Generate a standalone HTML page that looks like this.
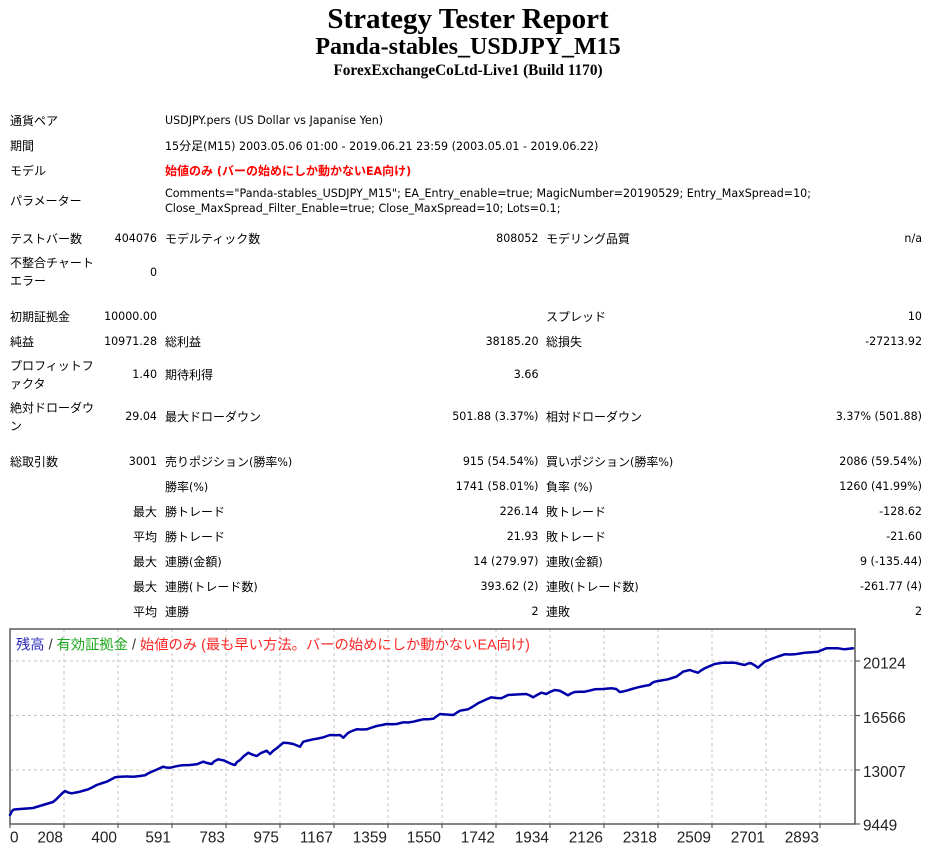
<!DOCTYPE html>
<html>
<head>
<meta charset="utf-8">
<style>
html,body{margin:0;padding:0;background:#fff;}
body{width:936px;height:858px;position:relative;overflow:hidden;}
.h{position:absolute;left:0;width:936px;text-align:center;font-family:"Liberation Serif","Noto Serif CJK SC",serif;font-weight:bold;color:#000;white-space:nowrap;}
.t{position:absolute;height:14px;line-height:14px;white-space:nowrap;font-family:"DejaVu Sans","Noto Sans CJK JP",sans-serif;font-size:12px;color:#000;}
.n{font-size:11.1px;}
.c{font-size:12px;}
.r{text-align:right;}
.red{color:#ff0000;font-weight:bold;}
svg{position:absolute;left:0;top:0;}
</style>
</head>
<body>
<div class="h" style="top:3px;font-size:29px;line-height:32px;">Strategy Tester Report</div>
<div class="h" style="top:33px;font-size:24px;line-height:28px;">Panda-stables_USDJPY_M15</div>
<div class="h" style="top:62px;font-size:15.3px;line-height:18px;">ForexExchangeCoLtd-Live1 (Build 1170)</div>

<!-- top info rows -->
<div class="t" style="left:10px;top:114px;">通貨ペア</div>
<div class="t n" style="left:165px;top:114px;">USDJPY.pers (US Dollar vs Japanise Yen)</div>

<div class="t" style="left:10px;top:138.5px;">期間</div>
<div class="t n" style="left:165px;top:138.5px;">15<span class="c">分足</span>(M15) 2003.05.06 01:00 - 2019.06.21 23:59 (2003.05.01 - 2019.06.22)</div>

<div class="t" style="left:10px;top:164px;">モデル</div>
<div class="t red" style="left:165px;top:164px;">始値のみ<span class="n"> (</span>バーの始めにしか動かない<span class="n">EA</span>向け<span class="n">)</span></div>

<div class="t" style="left:10px;top:194px;">パラメーター</div>
<div class="t n" style="left:165px;top:187px;">Comments="Panda-stables_USDJPY_M15"; EA_Entry_enable=true; MagicNumber=20190529; Entry_MaxSpread=10;</div>
<div class="t n" style="left:165px;top:201.5px;">Close_MaxSpread_Filter_Enable=true; Close_MaxSpread=10; Lots=0.1;</div>

<!-- row E -->
<div class="t" style="left:10px;top:232px;">テストバー数</div>
<div class="t r n" style="right:779px;top:232px;">404076</div>
<div class="t" style="left:165px;top:232px;">モデルティック数</div>
<div class="t r n" style="right:397.5px;top:232px;">808052</div>
<div class="t" style="left:546px;top:232px;">モデリング品質</div>
<div class="t r n" style="right:14px;top:232px;">n/a</div>

<!-- row F -->
<div class="t" style="left:10px;top:255.5px;">不整合チャート</div>
<div class="t" style="left:10px;top:273.5px;">エラー</div>
<div class="t r n" style="right:779px;top:265.5px;">0</div>

<!-- row G -->
<div class="t" style="left:10px;top:309.5px;">初期証拠金</div>
<div class="t r n" style="right:779px;top:309.5px;">10000.00</div>
<div class="t" style="left:546px;top:309.5px;">スプレッド</div>
<div class="t r n" style="right:14px;top:309.5px;">10</div>

<!-- row H -->
<div class="t" style="left:10px;top:334.5px;">純益</div>
<div class="t r n" style="right:779px;top:334.5px;">10971.28</div>
<div class="t" style="left:165px;top:334.5px;">総利益</div>
<div class="t r n" style="right:397.5px;top:334.5px;">38185.20</div>
<div class="t" style="left:546px;top:334.5px;">総損失</div>
<div class="t r n" style="right:14px;top:334.5px;">-27213.92</div>

<!-- row I -->
<div class="t" style="left:10px;top:359px;">プロフィットフ</div>
<div class="t" style="left:10px;top:377px;">ァクタ</div>
<div class="t r n" style="right:779px;top:368px;">1.40</div>
<div class="t" style="left:165px;top:368px;">期待利得</div>
<div class="t r n" style="right:397.5px;top:368px;">3.66</div>

<!-- row J -->
<div class="t" style="left:10px;top:401px;">絶対ドローダウ</div>
<div class="t" style="left:10px;top:419px;">ン</div>
<div class="t r n" style="right:779px;top:410px;">29.04</div>
<div class="t" style="left:165px;top:410px;">最大ドローダウン</div>
<div class="t r n" style="right:397.5px;top:410px;">501.88 (3.37%)</div>
<div class="t" style="left:546px;top:410px;">相対ドローダウン</div>
<div class="t r n" style="right:14px;top:410px;">3.37% (501.88)</div>

<!-- row K -->
<div class="t" style="left:10px;top:455px;">総取引数</div>
<div class="t r n" style="right:779px;top:455px;">3001</div>
<div class="t" style="left:165px;top:455px;">売りポジション<span class="n">(</span>勝率<span class="n">%)</span></div>
<div class="t r n" style="right:397.5px;top:455px;">915 (54.54%)</div>
<div class="t" style="left:546px;top:455px;">買いポジション<span class="n">(</span>勝率<span class="n">%)</span></div>
<div class="t r n" style="right:14px;top:455px;">2086 (59.54%)</div>

<!-- row L -->
<div class="t" style="left:165px;top:480px;">勝率<span class="n">(%)</span></div>
<div class="t r n" style="right:397.5px;top:480px;">1741 (58.01%)</div>
<div class="t" style="left:546px;top:480px;">負率<span class="n"> (%)</span></div>
<div class="t r n" style="right:14px;top:480px;">1260 (41.99%)</div>

<!-- row M -->
<div class="t r" style="right:779px;top:505px;">最大</div>
<div class="t" style="left:165px;top:505px;">勝トレード</div>
<div class="t r n" style="right:397.5px;top:505px;">226.14</div>
<div class="t" style="left:546px;top:505px;">敗トレード</div>
<div class="t r n" style="right:14px;top:505px;">-128.62</div>

<!-- row N -->
<div class="t r" style="right:779px;top:530px;">平均</div>
<div class="t" style="left:165px;top:530px;">勝トレード</div>
<div class="t r n" style="right:397.5px;top:530px;">21.93</div>
<div class="t" style="left:546px;top:530px;">敗トレード</div>
<div class="t r n" style="right:14px;top:530px;">-21.60</div>

<!-- row O -->
<div class="t r" style="right:779px;top:555px;">最大</div>
<div class="t" style="left:165px;top:555px;">連勝<span class="n">(</span>金額<span class="n">)</span></div>
<div class="t r n" style="right:397.5px;top:555px;">14 (279.97)</div>
<div class="t" style="left:546px;top:555px;">連敗<span class="n">(</span>金額<span class="n">)</span></div>
<div class="t r n" style="right:14px;top:555px;">9 (-135.44)</div>

<!-- row P -->
<div class="t r" style="right:779px;top:580px;">最大</div>
<div class="t" style="left:165px;top:580px;">連勝<span class="n">(</span>トレード数<span class="n">)</span></div>
<div class="t r n" style="right:397.5px;top:580px;">393.62 (2)</div>
<div class="t" style="left:546px;top:580px;">連敗<span class="n">(</span>トレード数<span class="n">)</span></div>
<div class="t r n" style="right:14px;top:580px;">-261.77 (4)</div>

<!-- row Q -->
<div class="t r" style="right:779px;top:605px;">平均</div>
<div class="t" style="left:165px;top:605px;">連勝</div>
<div class="t r n" style="right:397.5px;top:605px;">2</div>
<div class="t" style="left:546px;top:605px;">連敗</div>
<div class="t r n" style="right:14px;top:605px;">2</div>

<svg width="936" height="858" viewBox="0 0 936 858" xmlns="http://www.w3.org/2000/svg">
  <!-- grid -->
  <g stroke="#c4c4c4" stroke-width="1" stroke-dasharray="3 3" fill="none">
    <line x1="10" y1="661" x2="855" y2="661"/>
    <line x1="10" y1="715.5" x2="855" y2="715.5"/>
    <line x1="10" y1="770" x2="855" y2="770"/>
    <line x1="64" y1="629" x2="64" y2="824"/>
    <line x1="118" y1="629" x2="118" y2="824"/>
    <line x1="172" y1="629" x2="172" y2="824"/>
    <line x1="226" y1="629" x2="226" y2="824"/>
    <line x1="280" y1="629" x2="280" y2="824"/>
    <line x1="334" y1="629" x2="334" y2="824"/>
    <line x1="388" y1="629" x2="388" y2="824"/>
    <line x1="442" y1="629" x2="442" y2="824"/>
    <line x1="496" y1="629" x2="496" y2="824"/>
    <line x1="550" y1="629" x2="550" y2="824"/>
    <line x1="604" y1="629" x2="604" y2="824"/>
    <line x1="658" y1="629" x2="658" y2="824"/>
    <line x1="712" y1="629" x2="712" y2="824"/>
    <line x1="766" y1="629" x2="766" y2="824"/>
    <line x1="820" y1="629" x2="820" y2="824"/>
  </g>
  <!-- frame -->
  <rect x="10" y="629" width="845" height="195" fill="none" stroke="#5a5a5a" stroke-width="1.5"/>
  <!-- ticks -->
  <g stroke="#5a5a5a" stroke-width="1.2">
    <line x1="855" y1="661" x2="860" y2="661"/>
    <line x1="855" y1="715.5" x2="860" y2="715.5"/>
    <line x1="855" y1="770" x2="860" y2="770"/>
    <line x1="855" y1="824" x2="860" y2="824"/>
    <line x1="10" y1="824" x2="10" y2="828"/>
    <line x1="64" y1="824" x2="64" y2="828"/>
    <line x1="118" y1="824" x2="118" y2="828"/>
    <line x1="172" y1="824" x2="172" y2="828"/>
    <line x1="226" y1="824" x2="226" y2="828"/>
    <line x1="280" y1="824" x2="280" y2="828"/>
    <line x1="334" y1="824" x2="334" y2="828"/>
    <line x1="388" y1="824" x2="388" y2="828"/>
    <line x1="442" y1="824" x2="442" y2="828"/>
    <line x1="496" y1="824" x2="496" y2="828"/>
    <line x1="550" y1="824" x2="550" y2="828"/>
    <line x1="604" y1="824" x2="604" y2="828"/>
    <line x1="658" y1="824" x2="658" y2="828"/>
    <line x1="712" y1="824" x2="712" y2="828"/>
    <line x1="766" y1="824" x2="766" y2="828"/>
    <line x1="820" y1="824" x2="820" y2="828"/>
  </g>
  <!-- equity curve -->
  <polyline fill="none" stroke="#0000aa" stroke-width="2.5" stroke-linejoin="round" stroke-linecap="round" points="10,815 12,811 14,809.5 20,809 27,808.5 33,808 38,806.5 43,805 48,803.5 53,802 56,799.5 59,796.5 62,793.5 65,791 68,792.5 71.7,793.3 76,792.5 80,791.7 84,790.5 88.3,789.3 92,787.5 96.7,785 101,783.5 106.7,781.7 111,779.5 115,777.3 120,776.7 126,776.5 133.3,776.7 140,776 145,775.3 148,773.5 151.7,771.7 157,769.5 163.3,766.7 166,767.5 170,767.7 176,766.3 181.7,765.3 190,765 196.7,764.3 200,763 203.3,761.7 207,763 211.7,764 214,761.5 218.3,759.3 224,760.5 230,763.3 233,764.5 235,765 237,762 240,760 244,756 248.3,752.7 252,754.5 256.7,756 261,753 266.7,750.7 270,754 273,751 276.7,748.3 280,745.5 283.3,742.7 288,743 293.3,744 297,745.5 300,746.7 303.3,741.7 308,740.5 313.3,739.3 318,738.5 323.3,737.3 327,736 330,735 336,735.2 340,735 343.3,737.7 346,735 348.3,732.7 352,731 356.7,729.3 362,729.5 366.7,729.3 372,727.5 376.7,726 382,725 386.7,724 392,724.3 396.7,724 403.3,722.3 408,722.5 413.3,721.7 418,720.5 423.3,719.3 428,719.2 433.3,718.7 437,716 440,714 446,714.5 453.3,715 457,712.5 460,710.7 464,710 468,709.3 473,706.5 478,703.3 485,700 491.3,697.3 496,698 501.3,698.3 505,696.5 508,695 516,694.5 526.3,694 530,695.5 533,697.3 537,695 541.3,692.7 546.3,694 550,692 554.7,690 559.7,690.7 563,692.5 568,695.3 571,693.5 574.7,692 580,691.8 584.7,691.7 590,690.5 594.7,689.3 603,689 611.3,688.3 616.3,689 619.7,692 623,691.5 626.3,690.7 632,689 638,687.3 644,686 649.7,685 652,683 654.7,681.7 661,680.5 668,679.3 672,678 676.3,676.7 680,674 683,671.7 689.7,670 694,671.5 698,672.7 701,670.5 704.7,668.3 710,666 714.7,664 723,662.7 729,662.8 734.7,662.7 740,664 744.7,665 748,663.5 751.3,663.3 755,665.5 758,667.7 761,665 764.7,661.7 771.3,659 778,656.5 784.7,654.3 790,654.5 794.7,654.3 800,653.5 804.7,652.7 812,652.2 818,651.7 822,650 826.3,648.3 832,648.3 838,648.3 844.7,649.3 849,648.8 853,648.3"/>
  <!-- legend -->
  <text x="16" y="649.5" font-family="Liberation Sans, Noto Sans CJK JP, sans-serif" font-size="14.3"><tspan fill="#2a2ab8">残高</tspan><tspan fill="#333"> / </tspan><tspan fill="#20a820">有効証拠金</tspan><tspan fill="#333"> / </tspan><tspan fill="#ff2828">始値のみ (最も早い方法。バーの始めにしか動かないEA向け)</tspan></text>
  <!-- y labels -->
  <g font-family="Liberation Sans, sans-serif" font-size="15.4" fill="#222">
    <text x="863" y="668.7">20124</text>
    <text x="863" y="722.8">16566</text>
    <text x="863" y="777">13007</text>
    <text x="863" y="830.5">9449</text>
  </g>
  <!-- x labels -->
  <g font-family="Liberation Sans, sans-serif" font-size="15.4" fill="#222" text-anchor="end">
    <text x="18.6" y="842.5">0</text>
    <text x="63" y="842.5">208</text>
    <text x="117" y="842.5">400</text>
    <text x="171" y="842.5">591</text>
    <text x="225" y="842.5">783</text>
    <text x="279" y="842.5">975</text>
    <text x="333" y="842.5">1167</text>
    <text x="387" y="842.5">1359</text>
    <text x="441" y="842.5">1550</text>
    <text x="495" y="842.5">1742</text>
    <text x="549" y="842.5">1934</text>
    <text x="603" y="842.5">2126</text>
    <text x="657" y="842.5">2318</text>
    <text x="711" y="842.5">2509</text>
    <text x="765" y="842.5">2701</text>
    <text x="819" y="842.5">2893</text>
  </g>
</svg>
</body>
</html>
